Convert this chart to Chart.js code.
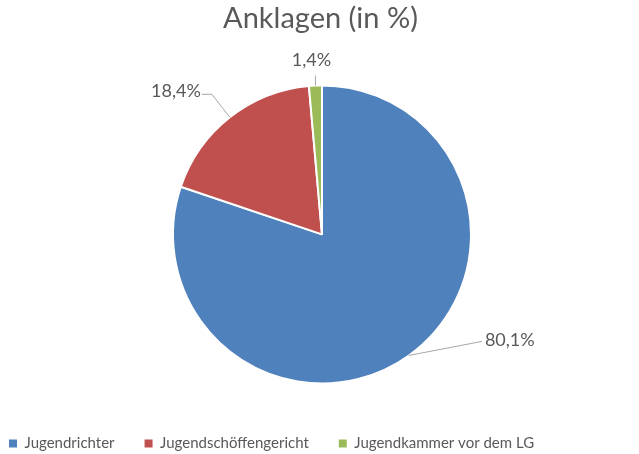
<!DOCTYPE html>
<html>
<head>
<meta charset="utf-8">
<script src="https://cdn.jsdelivr.net/npm/chart.js@4/dist/chart.umd.min.js"></script>
<style>
  html, body { margin: 0; padding: 0; background: #fff; }
  #wrap { width: 639px; height: 454px; }
</style>
</head>
<body>
<div id="wrap"><canvas id="pie"></canvas></div>
<script>
// data
const categories = ["Jugendrichter", "Jugendschöffengericht", "Jugendkammer vor dem LG"];
const shares = [80.1, 18.4, 1.4];
const sliceColors = ["#4F81BD", "#C0504D", "#9BBB59"];

const textGrey = "#595959";

// where each value label sits relative to the slice edge (layout only)
const labelLayout = [
    { dx: 73, dy: -14, side: "right" },
    { dx: -18, dy: -23, side: "left", tail: 10 },
    { dx: 0, dy: -10, side: "top" }
];

function fmt(v) {
    return v.toFixed(1).replace(".", ",") + "%";
}

// nudge the pie a bit to the right, like the original
const shiftArea = {
    id: "shiftArea",
    afterLayout(chart) {
        const ca = chart.chartArea;
        ca.left += 2.5; ca.right += 2.5;
        ca.top += 1; ca.bottom += 1;
    }
};

// draws the outside labels with leader lines
const outsideLabels = {
    id: "outsideLabels",
    afterDatasetsDraw(chart) {
        const ctx = chart.ctx;
        const meta = chart.getDatasetMeta(0);
        ctx.save();
        ctx.font = "18px Lato";
        ctx.fillStyle = textGrey;
        ctx.strokeStyle = "#A6A6A6";
        ctx.lineWidth = 1;
        meta.data.forEach((arc, i) => {
            const p = arc.getProps(["x", "y", "startAngle", "endAngle", "outerRadius"], true);
            const mid = (p.startAngle + p.endAngle) / 2;
            const ex = p.x + p.outerRadius * Math.cos(mid);
            const ey = p.y + p.outerRadius * Math.sin(mid);
            const lay = labelLayout[i];
            const bx = ex + lay.dx;
            const by = ey + lay.dy;
            const txt = fmt(shares[i]);
            ctx.beginPath();
            ctx.moveTo(ex, ey);
            ctx.lineTo(bx, by);
            if (lay.side === "left") {
                ctx.lineTo(bx - lay.tail, by);
            }
            ctx.stroke();
            ctx.textBaseline = "middle";
            if (lay.side === "right") {
                ctx.textAlign = "left";
                ctx.fillText(txt, bx + 3, by - 1);
            } else if (lay.side === "left") {
                ctx.textAlign = "right";
                ctx.fillText(txt, bx - lay.tail - 1, by - 3);
            } else {
                ctx.textAlign = "center";
                ctx.fillText(txt, bx - 4, by - 15);
            }
        });
        ctx.restore();
    }
};

new Chart(document.getElementById("pie"), {
    type: "pie",
    data: {
        labels: categories,
        datasets: [{
            data: shares,
            backgroundColor: sliceColors,
            borderColor: "#FFFFFF",
            borderWidth: 2,
            radius: 149
        }]
    },
    options: {
        responsive: true,
        maintainAspectRatio: false,
        animation: false,
        layout: {
            padding: { left: -21, right: -23, top: 0, bottom: 0 }
        },
        plugins: {
            title: {
                display: true,
                text: "Anklagen (in %)",
                color: textGrey,
                font: { family: "Lato", size: 29, weight: "normal" },
                padding: { top: 1, bottom: 25 }
            },
            legend: {
                position: "bottom",
                align: "start",
                maxHeight: 48,
                labels: {
                    boxWidth: 8,
                    boxHeight: 8,
                    padding: 30,
                    color: textGrey,
                    font: { family: "Lato", size: 15 },
                    generateLabels(chart) {
                        const items = Chart.overrides.pie.plugins.legend.labels.generateLabels(chart);
                        items.forEach(it => { it.lineWidth = 0; it.strokeStyle = it.fillStyle; });
                        return items;
                    }
                }
            },
            tooltip: { enabled: false }
        }
    },
    plugins: [shiftArea, outsideLabels]
});
</script>
</body>
</html>
